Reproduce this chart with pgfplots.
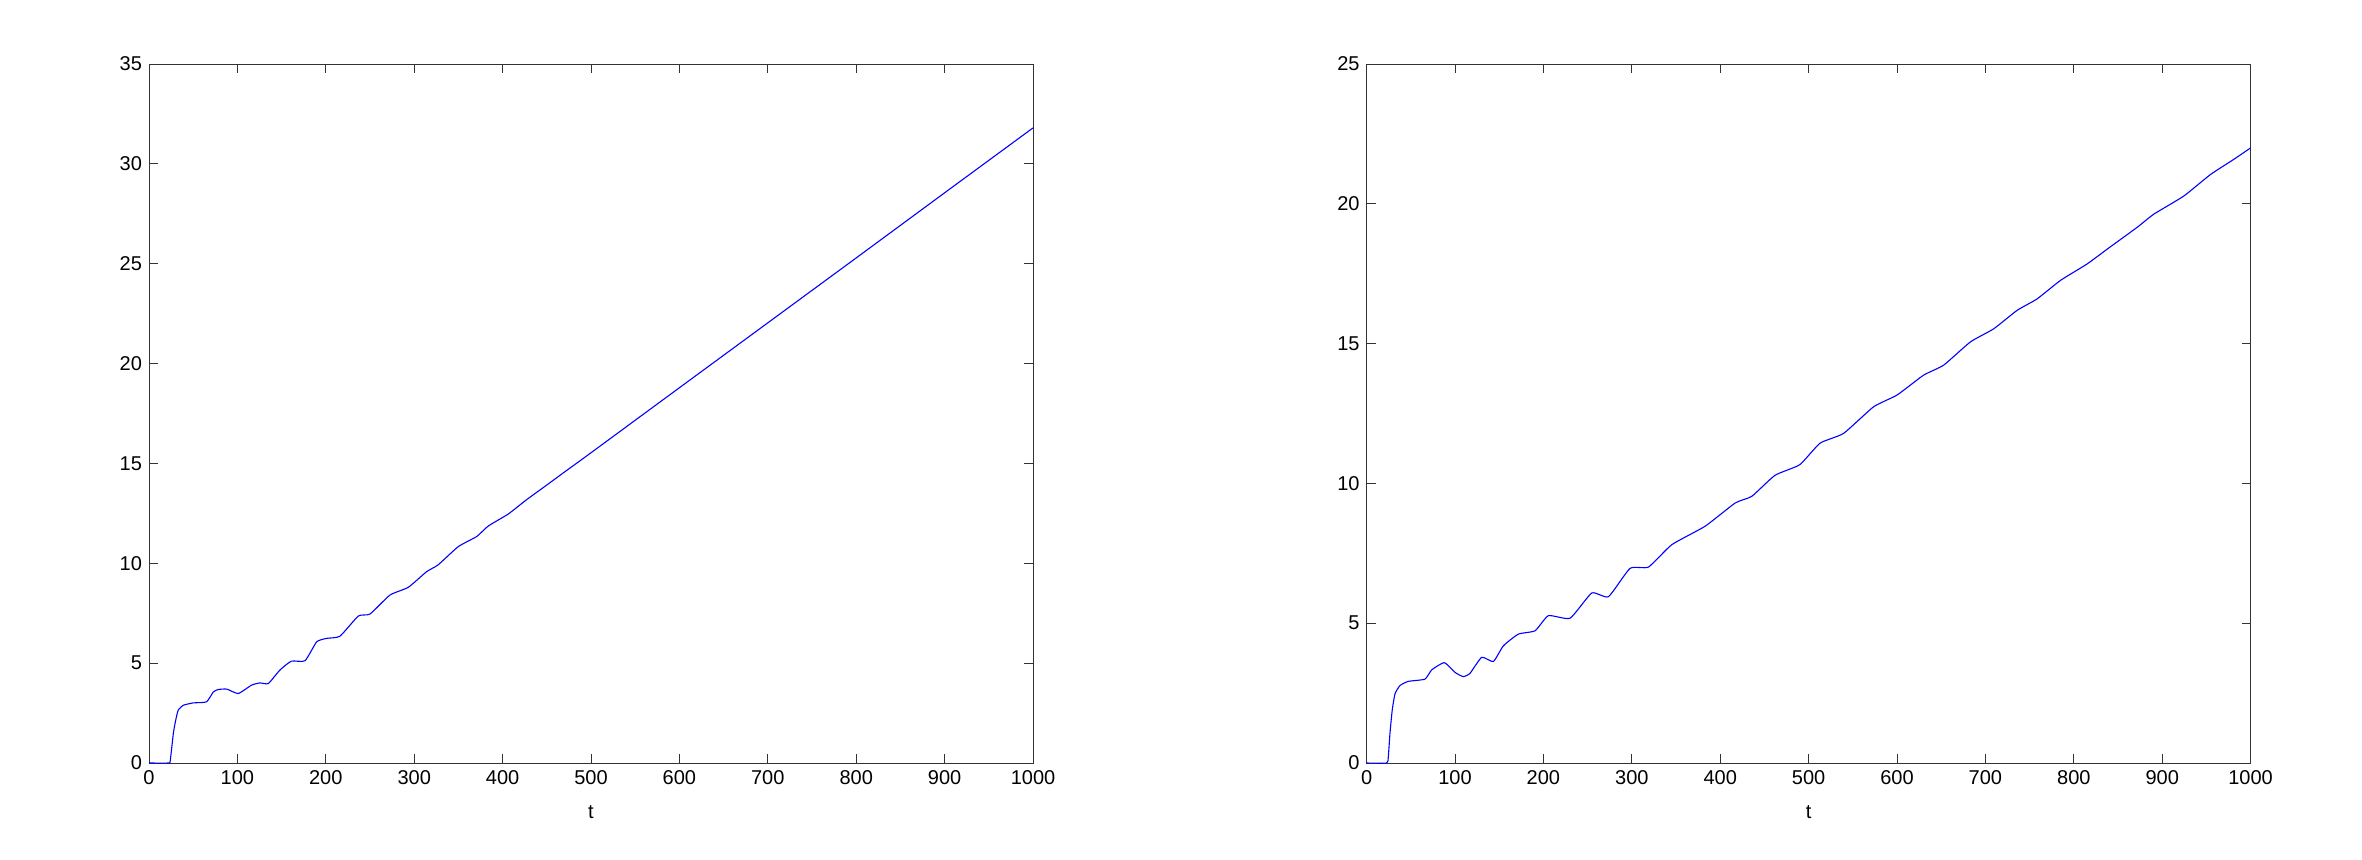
\documentclass[border=0pt]{standalone}
\usepackage{fontspec}
\setmainfont{Liberation Sans}
\usepackage{pgfplots}
\pgfplotsset{compat=1.18}

\pgfplotsset{
  mlstyle/.style={
    anchor=south west,
    width=442pt, height=349.5pt, scale only axis,
    xmin=0, xmax=1000, ymin=0,
    xtick={0,100,...,1000},
    scaled ticks=false,
    tick align=inside, tick pos=both,
    major tick length=4.5pt,
    axis line style={black!80, line width=0.5pt},
    every tick/.style={black!80, line width=0.5pt},
    tick label style={font=\fontsize{10}{12}\selectfont},
    /pgf/number format/assume math mode=true,
    /pgf/number format/1000 sep={},
    xlabel={t},
    xlabel style={font=\fontsize{10}{12}\selectfont, at={(axis description cs:0.5,0)}, anchor=center, yshift=-24.5pt},
  }
}

\begin{document}
\begin{tikzpicture}
\path (0,0) rectangle (1181pt,429.5pt);

\begin{axis}[mlstyle, at={(74.5pt,48pt)}, ymax=35, ytick={0,5,...,35}]
\addplot[blue, line width=0.55pt, smooth, tension=0.3] coordinates {
(0,0) (22,0) (24,0.1) (27.5,1.47) (30,2.1) (33,2.64) (38.8,2.89) (50,3.01)
(65,3.06) (72.8,3.56) (78.4,3.68) (88,3.70) (101,3.48) (116,3.90) (125.6,4.01)
(135,3.98) (148,4.65) (161,5.10) (176.5,5.12) (189.7,6.07) (201,6.24) (216,6.35)
(236.8,7.36) (250,7.46) (272.6,8.41) (293.4,8.80) (314,9.58) (327,9.92)
(350,10.84) (370.7,11.34) (383.9,11.87) (406.5,12.47) (427,13.18) (450,13.92)
(470,14.57) (490,15.21) (510,15.86) (600,18.79) (700,22.04) (800,25.29) (900,28.55)
(1000,31.8)
};
\end{axis}

\begin{axis}[mlstyle, at={(683.3pt,48pt)}, ymax=25, ytick={0,5,...,25}]
\addplot[blue, line width=0.55pt, smooth, tension=0.3] coordinates {
(0,0) (22.6,0) (24.5,0.2) (26.4,1.05) (29,1.9) (32.1,2.47) (37.7,2.77) (47.2,2.92)
(66,3.00) (73.6,3.33) (87.9,3.59) (100,3.24) (109.4,3.09) (117,3.21) (130.2,3.78)
(143.4,3.63) (154.7,4.19) (171.7,4.61) (190.6,4.73) (205.7,5.27) (230.2,5.18)
(254.7,6.08) (273.6,5.95) (298,6.96) (318.9,7.01) (345.3,7.81) (383,8.47)
(417,9.30) (435.8,9.54) (462,10.29) (490,10.67) (513,11.44) (539.6,11.79)
(573.5,12.74) (600,13.16) (630,13.87) (652.8,14.23) (683,15.06) (709.4,15.53)
(735.9,16.19) (758.5,16.60) (784.9,17.26) (815.1,17.85) (837.8,18.38)
(871.7,19.16) (890.5,19.63) (924.5,20.28) (954.7,21.05) (981,21.59) (1000,22.0)
};
\end{axis}
\end{tikzpicture}
\end{document}
